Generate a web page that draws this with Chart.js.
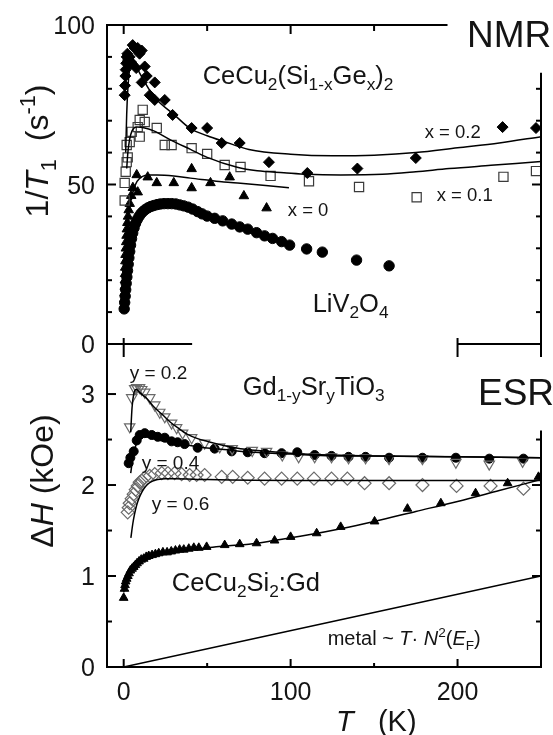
<!DOCTYPE html>
<html>
<head>
<meta charset="utf-8">
<title>NMR and ESR relaxation vs temperature</title>
<script src="https://cdn.jsdelivr.net/npm/chart.js@4.4.1/dist/chart.umd.min.js"></script>
<style>
  html, body { margin: 0; padding: 0; background: #fff; }
  #wrap { position: relative; width: 553px; height: 735px; }
  #wrap canvas { position: absolute; left: 0; top: 0; }
</style>
</head>
<body>
<div id="wrap">
  <canvas id="nmr" width="553" height="735"></canvas>
  <canvas id="esr" width="553" height="735"></canvas>
</div>
<script>
// ---------- NMR panel: 1/T1 (s^-1) vs T (K) ----------
// CeCu2(Si1-xGex)2, x = 0.2 (filled diamonds)
const x02T = [0.6,0.8,1.0,1.2,1.5,1.8,2.2,2.6,3.0,3.6,4.2,4.8,5.4,6.5,7.5,8.4,9.5,10.8,10.8,12.6,13.8,15.6,18.6,18.6,24.6,29.3,40.7,50,58.7,69.5,87,110,140,175,227,247];
const x02R = [78,81,84,86,88,90,91,89,87.5,90,88.5,88,93.7,92.8,86.5,92.8,91,92,82,87,84,78,82,76.5,76.5,71.8,67.7,67.7,63,63,57,53.6,55,58.3,68,67.7];
// x = 0.1 (open squares)
const x01T = [0.6,0.6,1.2,1.8,1.8,2.4,3.6,4.8,8.4,9.6,9.6,11.4,12.6,19.8,24.6,28.7,40.7,50,60.5,70,88,111,141,175.5,227.5,247];
const x01R = [45,50.5,54,57,62.4,58.5,63.3,66.5,68,70.2,65,73.4,69.6,67.7,62.4,62.4,61.4,59.6,56.1,55.5,52.7,51,49.2,46,52.4,54.2];
// x = 0 (filled triangles)
const x00T = [0.3,0.4,0.5,0.6,0.7,0.8,0.9,1.0,1.1,1.3,1.5,1.7,1.9,2.2,2.6,3.0,3.6,4.5,5.5,8.4,7.8,14.4,19.8,30,40.7,40.7,52,63.5,72,85.6];
const x00R = [12,14,16,18,20,22,24,26,28,30,32,34,36,38,40,42,44,46.5,49,47.6,53,52.3,50.5,50.5,54.9,48.9,50.5,52.3,46.4,42.6];
// LiV2O4 (filled circles)
const liT = [0.3,0.6,0.9,1.2,1.5,1.9,2.3,2.7,3.1,3.6,4.1,4.7,5.4,6.2,7.1,8.1,9.2,10.4,11.7,13.1,14.6,16.2,18,20,22,24.2,26.5,28.8,31.2,33.6,36,38.6,41.3,44.3,47,50,54.5,59.3,64.7,69.5,74.3,79.6,84.4,89.2,94.6,99.4,109.6,119,139.5,159];
const liR = [11,13,15,17,19,21,23,25,27,29,31,33,34.8,36.4,37.8,39,40,40.9,41.6,42.2,42.7,43.1,43.4,43.7,43.9,44,44,44,43.9,43.6,43.3,42.9,42.3,41.5,40.8,40.1,39.4,38.6,37.6,36.7,36,34.9,33.9,33.1,32.1,31,29.8,28.8,26.3,24.5];
// model curves through the CeCu2(Si1-xGex)2 data
const fitX02T = [1.2,1.8,2.5,3.5,5,7,10,15,20,30,40,50,60,75,100,125,150,175,200,225,250];
const fitX02R = [60,72,80,86,88.5,87.5,84.5,80,76.5,72,67.5,65.3,63.5,61,59.5,59,59.2,60,61.5,63,65];
const fitX01T = [1.8,2.5,3.5,5,8,12,18,28,40,50,68,80,96,110,130,155,175,195,220,250];
const fitX01R = [55,60,64,66.8,68,67.8,66.8,64,61,58.5,55.4,54.3,53.7,53.2,53,53.2,54,55,56,57.2];
const fitX00T = [4.5,6,8,11,15,20,30,40,50,60,70,85,99];
const fitX00R = [45,48.5,51,52.5,53,53,52.7,52,51.4,50.8,50.4,49.7,49];

// ---------- ESR panel: linewidth ΔH (kOe) vs T (K) ----------
// Gd1-ySryTiO3, y = 0.2 (open down triangles)
const y02T = [3.6,4.8,6.6,7.8,9.5,10.8,12.6,15.6,18.6,21.6,24.6,28.7,31.7,35.3,40.7,48.5,57.5,65,77,85.6,95,104.8,114.4,124.5,134.7,144.9,159,179,199,219,239];
const y02H = [2.64,2.96,3.06,3.07,3.07,3.05,3.02,2.96,2.88,2.8,2.75,2.68,2.63,2.57,2.52,2.46,2.42,2.40,2.38,2.37,2.33,2.31,2.31,2.31,2.30,2.30,2.29,2.29,2.25,2.23,2.26];
// y = 0.4 (filled circles)
const y04T = [3.0,4.0,6.0,7.8,9.6,12.6,16.8,20.4,24.6,28.7,32.3,36.5,44.3,54.5,64.7,74.3,84.4,94.6,104,114.4,124.5,134.7,144.9,159,179,199,219,239.5];
const y04H = [2.24,2.30,2.37,2.49,2.55,2.57,2.55,2.53,2.52,2.48,2.47,2.45,2.41,2.40,2.37,2.36,2.35,2.35,2.36,2.33,2.32,2.31,2.31,2.30,2.30,2.30,2.29,2.29];
// y = 0.6 (open diamonds)
const y06T = [2.4,3.0,3.6,4.8,6.0,7.2,8.4,9.6,10.8,12.6,15.6,18.6,22.8,26.5,30.5,34.7,39.5,43.7,48.5,58.7,65.3,74.3,84.4,94.6,104,114,124.5,134,144.3,159,179,199.4,219.8,239.5];
const y06H = [1.70,1.75,1.80,1.85,1.90,1.95,1.99,2.03,2.05,2.08,2.10,2.12,2.13,2.13,2.13,2.12,2.11,2.11,2.11,2.09,2.09,2.08,2.07,2.07,2.07,2.07,2.07,2.07,2.02,2.02,2.00,1.99,1.99,1.96];
// CeCu2Si2:Gd (filled triangles)
const gdT = [0,0.5,0.8,1.2,1.8,2.5,3.2,4,5,6,7,8,9.2,10.5,12,13.5,15,17,19,21,23.5,26,28.5,31,33.5,36,39,42,45,49.7,60.5,69.5,79.6,90.4,100,115.6,130,150.3,170,190,210.8,230,248.5];
const gdH = [0.76,0.86,0.9,0.94,0.97,1.0,1.03,1.06,1.08,1.1,1.12,1.14,1.16,1.18,1.19,1.21,1.22,1.23,1.24,1.25,1.26,1.26,1.27,1.28,1.29,1.29,1.3,1.31,1.31,1.32,1.34,1.35,1.36,1.39,1.43,1.47,1.54,1.60,1.74,1.80,1.91,2.02,2.09];
// model curves
const fitY02T = [4.2,5,6,7.5,10,14.4,18,22.8,28,32.3,38,44.3,50,58.7,70,80,100,125,150,200,250];
const fitY02H = [2.58,2.85,3.0,3.05,3.01,2.94,2.86,2.78,2.69,2.63,2.56,2.51,2.48,2.44,2.40,2.38,2.35,2.33,2.32,2.31,2.30];
const fitY04T = [4.2,5.5,7,8.4,10.5,12.6,16,22,28.7,38,48.5,60,78,100,125,150,200,250];
const fitY04H = [2.13,2.3,2.42,2.48,2.52,2.53,2.52,2.49,2.47,2.44,2.41,2.39,2.36,2.34,2.32,2.32,2.31,2.30];
const fitY06T = [4.3,5.5,6.5,7.8,9.3,10.8,12.5,14.4,17,20.4,25,30,50,100,150,200,250];
const fitY06H = [1.42,1.58,1.68,1.78,1.86,1.92,1.97,2.01,2.04,2.06,2.07,2.07,2.06,2.05,2.05,2.05,2.05];
const fitGdT = [0,2,5,10,15,20,30,40,50,60,75,90,110,130,150,175,200,225,250];
const fitGdH = [0.82,0.97,1.07,1.16,1.21,1.24,1.27,1.29,1.31,1.33,1.35,1.39,1.45,1.52,1.60,1.71,1.82,1.94,2.06];
// Korringa line of a normal metal, ΔH ~ T·N²(E_F)
const metalT = [0, 250];
const metalH = [0, 1.0];

// ---------- axes ----------
const T_MIN = -10, T_MAX = 250;
const xMajor = [0, 100, 200];
const xMinor = [50, 150];
const xLabels = ['0', '100', '200'];
const nmrMajor = [0, 50, 100];
const nmrMinor = [10, 20, 30, 40, 60, 70, 80, 90];
const nmrLabels = ['0', '50', '100'];
const esrMajor = [0, 1, 2, 3];
const esrMinor = [0.5, 1.5, 2.5];
const esrLabels = ['0', '1', '2', '3'];

// open-frame geometry (in axis units)
const NMR_TOP_END_T = 194;      // top border stops before the "NMR" caption
const NMR_RIGHT_FROM = 85;      // right axis of the NMR panel starts here
const NMR_BASE_LEFT_END_T = 41; // short base stubs between the panels
const NMR_BASE_RIGHT_FROM_T = 200;
const ESR_RIGHT_FROM = 2.6;     // right axis of the ESR panel starts here

const FONT = '"Liberation Sans", Arial, Helvetica, sans-serif';
const INK = '#141414';
Chart.defaults.font.family = FONT;

const zip = (xs, ys) => xs.map((x, i) => ({ x, y: ys[i] }));
const curve = (xs, ys) => ({
  data: zip(xs, ys), showLine: true, pointRadius: 0, borderColor: '#000',
  borderWidth: 1.5, cubicInterpolationMode: 'monotone', order: 0
});
const marks = (xs, ys, style) => Object.assign({ data: zip(xs, ys), showLine: false, order: 1 }, style);

function fontStr(size, italic) {
  return (italic ? 'italic ' : '') + size.toFixed(1) + 'px ' + FONT;
}
// rich text: parts = [[text, flags]], flags may hold 'sub', 'sup', 'i'
function drawRich(ctx, parts, x, y, size, opt = {}) {
  const runs = [];
  let w = 0;
  for (const [t, f = ''] of parts) {
    const small = f.includes('sub') || f.includes('sup');
    const s = small ? size * 0.68 : size;
    const dy = f.includes('sub') ? size * 0.24 : f.includes('sup') ? -size * 0.4 : 0;
    const it = f.includes('i');
    ctx.font = fontStr(s, it);
    runs.push({ t, s, dy, it, x: w });
    w += ctx.measureText(t).width;
  }
  ctx.save();
  ctx.translate(x, y);
  if (opt.rotate) ctx.rotate(opt.rotate);
  const x0 = opt.align === 'center' ? -w / 2 : opt.align === 'right' ? -w : 0;
  ctx.fillStyle = opt.color || INK;
  ctx.textAlign = 'left';
  ctx.textBaseline = 'alphabetic';
  for (const r of runs) {
    ctx.font = fontStr(r.s, r.it);
    ctx.fillText(r.t, x0 + r.x, r.dy);
  }
  ctx.restore();
}
function seg(ctx, x1, y1, x2, y2) {
  ctx.beginPath(); ctx.moveTo(x1, y1); ctx.lineTo(x2, y2); ctx.stroke();
}

// ---------- NMR chart ----------
const nmrFrame = {
  id: 'nmrFrame',
  afterDraw(chart) {
    const { ctx, chartArea: a, scales: { x, y } } = chart;
    const px = v => x.getPixelForValue(v), py = v => y.getPixelForValue(v);
    ctx.save();
    ctx.strokeStyle = '#000'; ctx.lineWidth = 2; ctx.lineCap = 'butt';
    seg(ctx, a.left, a.top - 1, a.left, a.bottom);
    seg(ctx, a.left - 1, a.top, px(NMR_TOP_END_T), a.top);
    seg(ctx, a.right, py(NMR_RIGHT_FROM), a.right, a.bottom + 13);
    seg(ctx, a.left, a.bottom, px(NMR_BASE_LEFT_END_T), a.bottom);
    seg(ctx, px(NMR_BASE_RIGHT_FROM_T), a.bottom, a.right + 1, a.bottom);
    nmrMajor.forEach(v => seg(ctx, a.left, py(v), a.left + 9, py(v)));
    nmrMinor.forEach(v => seg(ctx, a.left, py(v), a.left + 5, py(v)));
    nmrMajor.concat(nmrMinor).filter(v => v > 0 && v <= NMR_RIGHT_FROM)
      .forEach(v => seg(ctx, a.right, py(v), a.right - (nmrMajor.includes(v) ? 9 : 5), py(v)));
    xMajor.filter(t => t < NMR_TOP_END_T).forEach(t => seg(ctx, px(t), a.top, px(t), a.top + 9));
    xMinor.filter(t => t < NMR_TOP_END_T).forEach(t => seg(ctx, px(t), a.top, px(t), a.top + 6));
    [0, NMR_BASE_RIGHT_FROM_T].forEach(t => seg(ctx, px(t), a.bottom - 6, px(t), a.bottom + 13));
    ctx.restore();

    // tick labels
    nmrMajor.forEach((v, i) => drawRich(ctx, [[nmrLabels[i]]], a.left - 12, py(v) + 9, 25, { align: 'right' }));

    // captions inside the panel
    drawRich(ctx, [['CeCu'], ['2', 'sub'], ['(Si'], ['1-x', 'sub'], ['Ge'], ['x', 'sub'], [')'], ['2', 'sub']],
      px(47.3), py(81.5), 25.5);
    drawRich(ctx, [['x = 0.2']], px(180.3), py(64.7), 18.5);
    drawRich(ctx, [['x = 0.1']], px(187.5), py(44.7), 18.5);
    drawRich(ctx, [['x = 0']], px(98.3), py(40), 18.5);
    drawRich(ctx, [['LiV'], ['2', 'sub'], ['O'], ['4', 'sub']], px(113.2), py(10), 25.5);
    drawRich(ctx, [['NMR']], 467, 47, 37);

    // axis title
    drawRich(ctx, [['1/'], ['T', 'i'], ['1', 'sub'], ['  (s'], ['-1', 'sup'], [')']],
      48, 151, 32, { align: 'center', rotate: -Math.PI / 2 });
  }
};

new Chart(document.getElementById('nmr'), {
  type: 'scatter',
  data: {
    datasets: [
      curve(fitX02T, fitX02R),
      curve(fitX01T, fitX01R),
      curve(fitX00T, fitX00R),
      marks(x02T, x02R, { pointStyle: 'rectRot', pointRadius: 5.5, backgroundColor: '#000', borderColor: '#000', borderWidth: 1 }),
      marks(x01T, x01R, { pointStyle: 'rect', pointRadius: 6.5, backgroundColor: 'rgba(255,255,255,0)', borderColor: '#3a3a3a', borderWidth: 1.2 }),
      marks(x00T, x00R, { pointStyle: 'triangle', pointRadius: 5.5, backgroundColor: '#000', borderColor: '#000', borderWidth: 1 }),
      marks(liT, liR, { pointStyle: 'circle', pointRadius: 5.2, backgroundColor: '#000', borderColor: '#000', borderWidth: 1 })
    ]
  },
  options: {
    responsive: false,
    animation: false,
    events: [],
    layout: { padding: { left: 107, right: 12, top: 25, bottom: 391 } },
    scales: {
      x: { type: 'linear', min: T_MIN, max: T_MAX, display: false },
      y: { type: 'linear', min: 0, max: 100, display: false }
    },
    plugins: { legend: { display: false }, tooltip: { enabled: false } }
  },
  plugins: [nmrFrame]
});

// ---------- ESR chart ----------
const esrFrame = {
  id: 'esrFrame',
  afterDraw(chart) {
    const { ctx, chartArea: a, scales: { x, y } } = chart;
    const px = v => x.getPixelForValue(v), py = v => y.getPixelForValue(v);
    ctx.save();
    ctx.strokeStyle = '#000'; ctx.lineWidth = 2; ctx.lineCap = 'butt';
    seg(ctx, a.left, a.top, a.left, a.bottom + 1);
    seg(ctx, a.left - 1, a.bottom, a.right + 1, a.bottom);
    seg(ctx, a.right, py(ESR_RIGHT_FROM), a.right, a.bottom);
    esrMajor.forEach(v => seg(ctx, a.left, py(v), a.left + 9, py(v)));
    esrMinor.forEach(v => seg(ctx, a.left, py(v), a.left + 5, py(v)));
    esrMajor.concat(esrMinor).filter(v => v > 0 && v <= ESR_RIGHT_FROM)
      .forEach(v => seg(ctx, a.right, py(v), a.right - (esrMajor.includes(v) ? 9 : 5), py(v)));
    xMajor.forEach(t => seg(ctx, px(t), a.bottom, px(t), a.bottom - 8));
    xMinor.forEach(t => seg(ctx, px(t), a.bottom, px(t), a.bottom - 4));
    ctx.restore();

    esrMajor.forEach((v, i) => drawRich(ctx, [[esrLabels[i]]], a.left - 12, py(v) + 9, 25, { align: 'right' }));
    xMajor.forEach((t, i) => drawRich(ctx, [[xLabels[i]]], px(t), a.bottom + 33, 25, { align: 'center' }));

    drawRich(ctx, [['y = 0.2']], px(3.6), py(3.17), 19);
    drawRich(ctx, [['Gd'], ['1-y', 'sub'], ['Sr'], ['y', 'sub'], ['TiO'], ['3', 'sub']], px(71.3), py(2.99), 25.5);
    drawRich(ctx, [['y = 0.4']], px(10.8), py(2.18), 19);
    drawRich(ctx, [['y = 0.6']], px(16.8), py(1.73), 19);
    drawRich(ctx, [['CeCu'], ['2', 'sub'], ['Si'], ['2', 'sub'], [':Gd']], px(28.8), py(0.835), 25.5);
    drawRich(ctx, [['metal ~ '], ['T', 'i'], ['· '], ['N', 'i'], ['2', 'sup'], ['('], ['E', 'i'], ['F', 'sub'], [')']],
      px(122.2), py(0.24), 20);
    drawRich(ctx, [['ESR']], 478, 405, 37);

    drawRich(ctx, [['Δ'], ['H', 'i'], [' (kOe)']], 53, 481, 32, { align: 'center', rotate: -Math.PI / 2 });
    drawRich(ctx, [['T', 'i'], ['   (K)']], 336, 731, 29);
  }
};

new Chart(document.getElementById('esr'), {
  type: 'scatter',
  data: {
    datasets: [
      curve(fitY02T, fitY02H),
      curve(fitY04T, fitY04H),
      curve(fitY06T, fitY06H),
      curve(fitGdT, fitGdH),
      curve(metalT, metalH),
      marks(y02T, y02H, { pointStyle: 'triangle', rotation: 180, pointRadius: 6, backgroundColor: 'rgba(255,255,255,0)', borderColor: '#6a6a6a', borderWidth: 1.2 }),
      marks(y04T, y04H, { pointStyle: 'circle', pointRadius: 4.5, backgroundColor: '#000', borderColor: '#000', borderWidth: 1 }),
      marks(y06T, y06H, { pointStyle: 'rectRot', pointRadius: 6.5, backgroundColor: 'rgba(255,255,255,0)', borderColor: '#6a6a6a', borderWidth: 1.2 }),
      marks(gdT, gdH, { pointStyle: 'triangle', pointRadius: 5, backgroundColor: '#000', borderColor: '#000', borderWidth: 1 })
    ]
  },
  options: {
    responsive: false,
    animation: false,
    events: [],
    layout: { padding: { left: 107, right: 12, top: 344, bottom: 68 } },
    scales: {
      x: { type: 'linear', min: T_MIN, max: T_MAX, display: false },
      y: { type: 'linear', min: 0, max: 3.55, display: false }
    },
    plugins: { legend: { display: false }, tooltip: { enabled: false } }
  },
  plugins: [esrFrame]
});
</script>
</body>
</html>
